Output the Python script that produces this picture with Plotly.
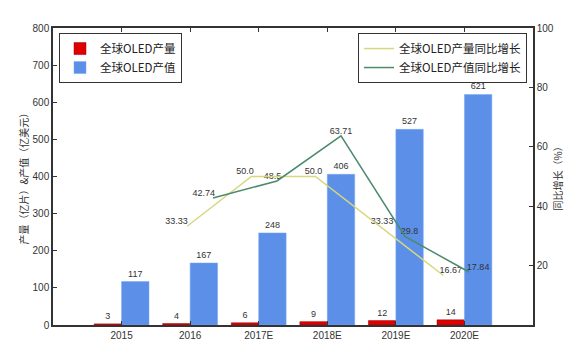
import plotly.graph_objects as go

years = ['2015', '2016', '2017E', '2018E', '2019E', '2020E']
output = [3, 4, 6, 9, 12, 14]            # 全球OLED产量 (亿片)
value = [117, 167, 248, 406, 527, 621]   # 全球OLED产值 (亿美元)
growth_years = ['2016', '2017E', '2018E', '2019E', '2020E']
output_growth = [33.33, 50.0, 50.0, 33.33, 16.67]
value_growth = [42.74, 48.5, 63.71, 29.8, 17.84]
output_growth_txt = ['33.33', '50.0', '50.0', '33.33', '16.67']
value_growth_txt = ['42.74', '48.5', '63.71', '29.8', '17.84']
left_ticks = [0, 100, 200, 300, 400, 500, 600, 700, 800]
right_ticks = [20, 40, 60, 80, 100]

RED = '#e00000'
BLUE = '#5b8fe8'
YELLOW = '#d7d77e'
GREEN = '#4d8a6c'
AX = '#333333'
CJK = 'Noto Sans CJK SC, Liberation Sans, sans-serif'
NUM = 'Liberation Sans, DejaVu Sans, sans-serif'

idx = list(range(len(years)))
gidx = [years.index(y) for y in growth_years]
W = 0.4

fig = go.Figure()
fig.add_trace(go.Bar(
    x=idx, y=output, width=W, offset=-W, marker=dict(color=RED, line=dict(color='#900000', width=0.5)),
    name='全球OLED产量', text=[str(v) for v in output], textposition='outside',
    textfont=dict(size=9, color='#333', family=NUM), cliponaxis=False, legend='legend'))
fig.add_trace(go.Bar(
    x=idx, y=value, width=W, offset=0, marker=dict(color=BLUE, line=dict(color='#7aa6f0', width=0.5)),
    name='全球OLED产值', text=[str(v) for v in value], textposition='outside',
    textfont=dict(size=9, color='#333', family=NUM), cliponaxis=False, legend='legend'))

fig.add_trace(go.Scatter(
    x=[i - 0.2 for i in gidx], y=output_growth, mode='lines', xaxis='x2', yaxis='y2',
    line=dict(color=YELLOW, width=1.5), name='全球OLED产量同比增长', legend='legend2'))
fig.add_trace(go.Scatter(
    x=[i + 0.2 for i in gidx], y=value_growth, mode='lines', xaxis='x2', yaxis='y2',
    line=dict(color=GREEN, width=1.5), name='全球OLED产值同比增长', legend='legend2'))

fig.add_trace(go.Scatter(
    x=[i - 0.2 for i in gidx], y=output_growth, mode='text', text=output_growth_txt,
    textposition='top center', textfont=dict(size=9, color='#333', family=NUM),
    xaxis='x', yaxis='y2', showlegend=False, cliponaxis=False))
fig.add_trace(go.Scatter(
    x=[i + 0.2 for i in gidx], y=value_growth, mode='text', text=value_growth_txt,
    textposition='top center', textfont=dict(size=9, color='#333', family=NUM),
    xaxis='x', yaxis='y2', showlegend=False, cliponaxis=False))

fig.update_layout(
    width=572, height=347,
    margin=dict(l=45, r=47, t=20, b=30, autoexpand=False),
    paper_bgcolor='white', plot_bgcolor='white',
    barmode='overlay',
    font=dict(family=CJK, size=10, color='#333'),
    xaxis=dict(range=[-1, 6], tickvals=idx, ticktext=years, ticks='inside', ticklen=4,
               tickcolor=AX, showline=True, linecolor=AX, linewidth=1.5, mirror='ticks',
               showgrid=False, zeroline=False, tickfont=dict(size=10, family=NUM),
               automargin=False),
    xaxis2=dict(range=[-1.3, 6.2], overlaying='x', anchor='y2', visible=False),
    yaxis=dict(range=[0, 800], tickvals=left_ticks, ticks='inside', ticklen=4, tickcolor=AX,
               showline=True, linecolor=AX, linewidth=1.5, showgrid=False, zeroline=False,
               tickfont=dict(size=10, family=NUM), automargin=False),
    yaxis2=dict(range=[0, 100], tickvals=right_ticks, overlaying='y', side='right', anchor='x',
                ticks='inside', ticklen=4, tickcolor=AX, showline=True, linecolor=AX, linewidth=1.5,
                showgrid=False, zeroline=False, tickfont=dict(size=10, family=NUM),
                automargin=False),
    legend=dict(x=0.0125, y=0.983, xanchor='left', yanchor='top', bgcolor='white',
                bordercolor=AX, borderwidth=1, itemwidth=30,
                font=dict(size=11.5, family=CJK, color='#222')),
    legend2=dict(x=0.9875, y=0.983, xanchor='right', yanchor='top', bgcolor='white',
                 bordercolor=AX, borderwidth=1, itemwidth=30,
                 font=dict(size=11.5, family=CJK, color='#222')),
    annotations=[
        dict(text='产量（亿片）&产值（亿美元）', xref='paper', yref='paper', x=-0.0625, y=0.5,
             textangle=-90, showarrow=False, font=dict(size=10, family=CJK, color='#333'),
             xanchor='center', yanchor='middle'),
        dict(text='同比增长（%）', xref='paper', yref='paper', x=1.05, y=0.5,
             textangle=-90, showarrow=False, font=dict(size=10, family=CJK, color='#333'),
             xanchor='center', yanchor='middle'),
    ],
)

fig.write_html('out.html')
